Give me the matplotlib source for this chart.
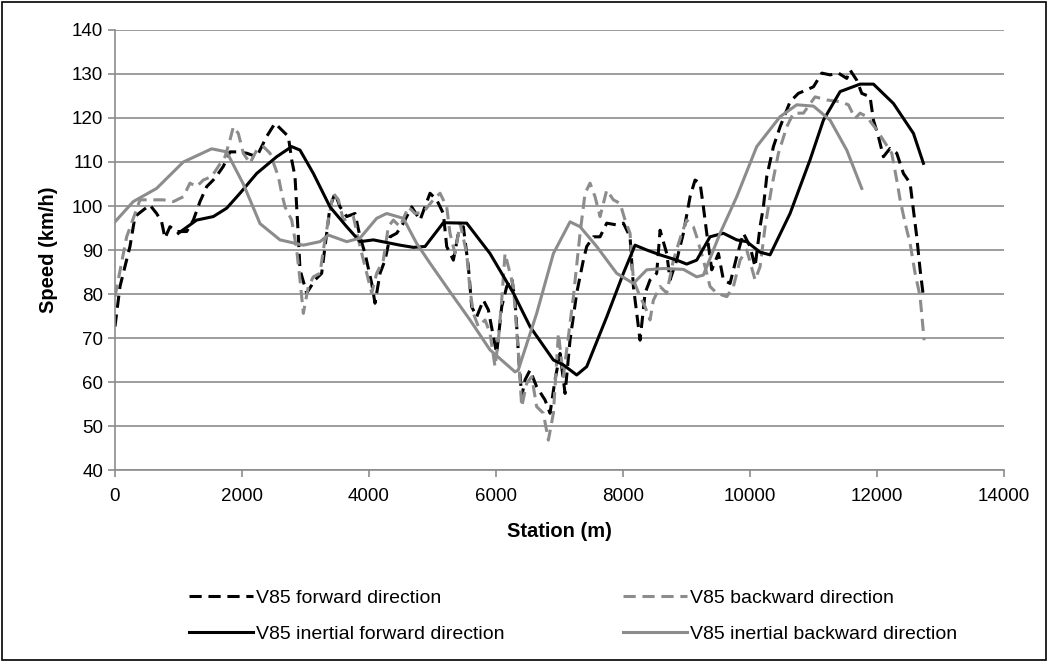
import numpy as np
import matplotlib
matplotlib.use("Agg")
import matplotlib.pyplot as plt
from matplotlib.patches import Rectangle

plt.rcParams['font.family'] = ['Liberation Sans Narrow', 'Liberation Sans', 'DejaVu Sans']

# V85 forward direction (station m, speed km/h)
fwd_x = [0, 79, 236, 315, 446, 551, 656, 735, 788, 866, 971, 1129, 1234, 1339, 1444, 1575,
         1706, 1811, 1916, 2074, 2232, 2389, 2520, 2625, 2730, 2783, 2835, 2862, 2888, 2914,
         3019, 3150, 3255, 3334, 3386, 3465, 3544, 3649, 3780, 3859, 3938, 4043, 4095, 4174,
         4253, 4331, 4436, 4541, 4673, 4804, 4961, 5066, 5171, 5224, 5329, 5408, 5486, 5565,
         5618, 5696, 5801, 5880, 5959, 6011, 6090, 6169, 6248, 6300, 6353, 6405, 6458, 6536,
         6641, 6773, 6851, 6930, 7009, 7088, 7166, 7271, 7376, 7429, 7534, 7639, 7744, 7901,
         8006, 8111, 8164, 8243, 8269, 8348, 8426, 8531, 8584, 8689, 8741, 8846, 8951, 9056,
         9135, 9214, 9266, 9319, 9398, 9503, 9581, 9686, 9791, 9896, 10001, 10080, 10159,
         10211, 10264, 10369, 10474, 10631, 10762, 10894, 11000, 11131, 11262, 11393, 11524,
         11576, 11681, 11760, 11891, 11944, 12022, 12101, 12206, 12311, 12416, 12521, 12574,
         12626, 12679, 12731]
fwd_y = [72.6, 81.7, 90.8, 97.6, 99.1, 100.2, 98.3, 96.4, 92.7, 95.3, 94.2, 94.2, 96.8, 101,
         104.4, 106.3, 109, 112.3, 112.3, 112, 111.2, 115.8, 118.8, 117.3, 115.8, 110.5, 106.7,
         99.8, 93, 85.5, 80.2, 83.2, 84.7, 93.8, 99.8, 102.9, 99.8, 97.6, 98.3, 93, 89.2, 82.4,
         77.9, 84.7, 87.7, 93, 93.8, 96.1, 99.8, 96.8, 102.9, 101.4, 98.3, 90.8, 87.7, 93.8,
         95.3, 86.2, 77.1, 74.8, 78.6, 76.4, 70.3, 66.5, 77.1, 81.7, 83.6, 78.6, 66.5, 56.7,
         60.5, 62.7, 58.9, 55.9, 52.9, 60.5, 66.5, 57.4, 69.5, 80.2, 87.7, 90.8, 93, 93, 96.1,
         95.7, 96.1, 93, 81.7, 72.6, 69.5, 80.2, 83.2, 84.7, 94.5, 89.2, 83.2, 87.7, 93.8,
         102.1, 105.9, 105.2, 99.8, 93.8, 85.5, 89.2, 83.2, 82.4, 88.5, 93.8, 90.8, 86.2, 95.3,
         99.8, 106.7, 113.5, 118, 123.7, 125.6, 126.4, 127.1, 130.2, 129.8, 130.2, 129, 130.9,
         128.6, 125.6, 124.8, 119.5, 115.8, 111.2, 113.1, 112, 107.4, 105.2, 99.1, 93, 85.5,
         79.4]

# V85 backward direction
bwd_x = [0, 184, 394, 604, 761, 919, 1076, 1181, 1286, 1391, 1523, 1628, 1733, 1811, 1864,
         1942, 2021, 2126, 2232, 2337, 2441, 2573, 2625, 2678, 2783, 2862, 2914, 2966, 3045,
         3124, 3229, 3281, 3360, 3439, 3518, 3596, 3754, 3859, 3964, 4043, 4121, 4226, 4305,
         4384, 4489, 4620, 4725, 4856, 5013, 5119, 5224, 5276, 5355, 5434, 5539, 5591, 5644,
         5722, 5828, 5906, 5985, 6038, 6090, 6143, 6221, 6274, 6353, 6405, 6484, 6563, 6641,
         6746, 6825, 6904, 6983, 7061, 7140, 7219, 7324, 7403, 7481, 7560, 7639, 7744, 7849,
         7954, 8033, 8111, 8164, 8269, 8348, 8426, 8479, 8584, 8689, 8794, 8925, 9003, 9108,
         9161, 9266, 9371, 9476, 9634, 9739, 9844, 9949, 10080, 10159, 10238, 10343, 10448,
         10579, 10684, 10841, 11025, 11209, 11419, 11550, 11655, 11734, 11839, 11996, 12232,
         12311, 12364, 12443, 12521, 12600, 12679, 12742]
bwd_y = [79.4, 93, 101.4, 101.4, 101.4, 101, 102.1, 105.2, 104.4, 105.9, 106.7, 109, 111.2,
         115, 118, 116.5, 112, 109.7, 112.7, 113.5, 112, 106.7, 102.9, 99.8, 96.8, 90, 83.2,
         75.6, 81.7, 83.9, 84.7, 90, 96.8, 102.9, 101.4, 96.8, 97.6, 90.8, 84.7, 80.2, 84.7,
         87.7, 95.3, 96.8, 95.3, 99.8, 98.3, 98.6, 101.4, 102.9, 99.8, 93.8, 89.2, 96.1, 89.2,
         80.9, 75.6, 72.6, 74.1, 71.1, 63.5, 69.5, 78.6, 89.2, 84.7, 81.7, 66.5, 54.4, 59.7,
         61.2, 54.4, 52.9, 46.8, 52.9, 71.1, 61.2, 70.3, 79.4, 93.8, 102.9, 105.2, 102.1, 97.6,
         103.6, 101.4, 100.6, 96.8, 93.8, 83.2, 79.4, 77.1, 74.1, 78.6, 81.7, 80.2, 87.7, 93.8,
         96.8, 95.3, 93, 87.7, 81.7, 80.2, 79.4, 81.7, 87.7, 90, 83.2, 86.2, 95.3, 104.4, 112,
         118, 121.1, 121.1, 124.8, 124.1, 123.7, 123, 119.9, 121.1, 120.3, 117.3, 112, 105.9,
         101.4, 96.1, 91.5, 84.7, 79.4, 69.5]

# V85 inertial forward direction
ifwd_x = [998, 1286, 1549, 1759, 1969, 2232, 2547, 2783, 2914, 3124, 3386, 3649, 3859, 4069,
          4279, 4489, 4699, 4883, 5171, 5539, 5906, 6274, 6536, 6904, 7061, 7271, 7429, 7744,
          8006, 8190, 8374, 8584, 8846, 9003, 9161, 9371, 9581, 9791, 9949, 10159, 10316, 10631,
          10946, 11156, 11419, 11734, 11944, 12259, 12574, 12731]
ifwd_y = [93.8, 96.8, 97.6, 99.5, 102.9, 107.4, 111.2, 113.5, 112.7, 107.4, 99.8, 95.3, 91.9,
          92.3, 91.7, 91.1, 90.6, 90.8, 96.2, 96.1, 89.2, 80.2, 72.6, 65, 63.9, 61.6, 63.5, 74.8,
          84.7, 91.1, 90, 88.9, 87.7, 86.8, 87.7, 93, 93.8, 92.3, 91.9, 89.5, 88.9, 98.3, 110.5,
          119.5, 126, 127.7, 127.7, 123.3, 116.5, 109.7]

# V85 inertial backward direction
ibwd_x = [0, 288, 656, 1076, 1523, 1759, 2021, 2284, 2599, 2966, 3229, 3360, 3649, 3859, 4121,
          4279, 4541, 4751, 4961, 5276, 5591, 5906, 6300, 6350, 6641, 6904, 7166, 7324, 7586,
          7901, 8164, 8374, 8636, 8951, 9161, 9266, 9529, 9791, 10106, 10474, 10737, 11000,
          11262, 11524, 11760]
ibwd_y = [96.4, 101, 104, 110, 113, 112.3, 105, 96, 92.3, 91.1, 91.9, 93.4, 91.9, 92.7, 97.2,
          98.3, 97.2, 91.5, 87, 80.5, 74.1, 67.3, 62.3, 62.7, 75.6, 89.2, 96.4, 95.3, 90.8,
          84.7, 82.4, 85.5, 85.8, 85.6, 83.9, 84.3, 93.8, 102.1, 113.5, 120.3, 123, 122.7,
          119.5, 112.7, 104]

labels = ["V85 forward direction", "V85 backward direction",
          "V85 inertial forward direction", "V85 inertial backward direction"]
grey = "#8c8c8c"

fig = plt.figure(figsize=(10.49, 6.62), dpi=100)
ax = fig.add_axes([0.1096, 0.29, 0.8475, 0.6647])

dash = (0, (4, 2.2))
l1, = ax.plot(fwd_x, fwd_y, color="black", lw=2.2, ls=dash)
l2, = ax.plot(bwd_x, bwd_y, color=grey, lw=2.2, ls=dash)
l3, = ax.plot(ifwd_x, ifwd_y, color="black", lw=2.2)
l4, = ax.plot(ibwd_x, ibwd_y, color=grey, lw=2.2)

ax.set_xlim(0, 14000)
ax.set_ylim(40, 140)
ax.set_xticks(np.arange(0, 14001, 2000))
ax.set_yticks(np.arange(40, 141, 10))
ax.grid(axis="y", color=grey, lw=1.2)
ax.set_axisbelow(True)
for s in ["top", "right"]:
    ax.spines[s].set_visible(False)
for s in ["left", "bottom"]:
    ax.spines[s].set_color(grey)
    ax.spines[s].set_linewidth(1.2)
ax.tick_params(colors=grey, labelcolor="black", labelsize=13.5, length=5, width=1.2)
ax.tick_params(axis="x", pad=8)
ax.set_xlabel("Station (m)", fontsize=14.5, fontweight="bold", labelpad=12)
ax.set_ylabel("Speed (km/h)", fontsize=14.5, fontweight="bold", labelpad=10)

# row-wise legend order: matplotlib fills columns first
fig.legend([l1, l3, l2, l4], [labels[0], labels[2], labels[1], labels[3]],
           loc="center", bbox_to_anchor=(0.546, 0.0695),
           ncol=2, frameon=False, fontsize=14, handlelength=3.3, handletextpad=0.15,
           columnspacing=6.1, labelspacing=0.95)

fig.patches.append(Rectangle((0.002, 0.003), 0.995, 0.994, transform=fig.transFigure,
                             fill=False, edgecolor="black", lw=1.2))

fig.savefig("out.png", dpi=100)
